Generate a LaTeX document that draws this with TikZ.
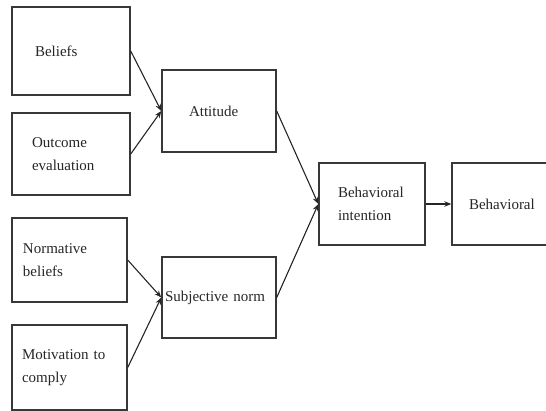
\documentclass[tikz,border=0pt]{standalone}
\usepackage{fontspec}
\setmainfont{Liberation Serif}
\usetikzlibrary{arrows.meta}
\begin{document}
\begin{tikzpicture}[x=1pt,y=-1pt,
  box/.style={draw=black!78, line width=1.4pt, rectangle, inner sep=0pt, align=left,
    font=\fontsize{15}{23}\selectfont, text=black!85},
  conn/.style={draw=black!85, line width=1.1pt, -{Stealth[length=7pt,width=5.5pt]}}]
\useasboundingbox (0,0) rectangle (546,411);
\clip (0,0) rectangle (546,411);
\node[box, minimum width=118pt, minimum height=88pt, text width=72pt] (bel) at (71,51) {Beliefs};
\node[box, minimum width=118pt, minimum height=82pt, text width=78pt] (out) at (71,154) {Outcome\\evaluation};
\node[box, minimum width=115pt, minimum height=84pt, text width=93pt] (nor) at (69.5,260) {Normative\\beliefs};
\node[box, minimum width=115pt, minimum height=85pt, text width=95pt] (mot) at (69.5,367.5) {Motivation to\\comply};
\node[box, minimum width=114pt, minimum height=82pt, text width=60pt] (att) at (219,111) {Attitude};
\node[box, minimum width=114pt, minimum height=81pt, text width=108pt] (sub) at (219,297.5) {Subjective norm};
\node[box, minimum width=106pt, minimum height=82pt, text width=68pt] (bi) at (372,204) {Behavioral\\intention};
\node[box, minimum width=108pt, minimum height=82pt, text width=74pt] (beh) at (506,204) {Behavioral};
\draw[conn] (bel.east) -- (att.west);
\draw[conn] (out.east) -- (att.west);
\draw[conn] (nor.east) -- (sub.west);
\draw[conn] (mot.east) -- (sub.west);
\draw[conn] (att.east) -- (bi.west);
\draw[conn] (sub.east) -- (bi.west);
\draw[conn] (bi.east) -- (beh.west);
\end{tikzpicture}
\end{document}
